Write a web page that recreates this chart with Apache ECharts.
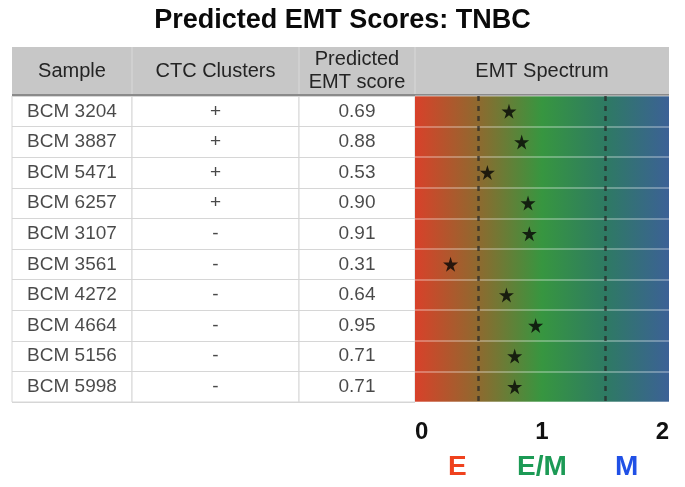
<!DOCTYPE html>
<html>
<head>
<meta charset="utf-8">
<script src="https://cdn.jsdelivr.net/npm/echarts@6/dist/echarts.min.js"></script>
<style>html,body{margin:0;padding:0;background:#fff;}#c{width:685px;height:487px;}</style>
</head>
<body>
<div id="c"></div>
<script>
// ---- data ----
const title = 'Predicted EMT Scores: TNBC';
const headers = ['Sample', 'CTC Clusters', 'Predicted\nEMT score', 'EMT Spectrum'];
const samples = ['BCM 3204','BCM 3887','BCM 5471','BCM 6257','BCM 3107','BCM 3561','BCM 4272','BCM 4664','BCM 5156','BCM 5998'];
const ctcClusters = ['+','+','+','+','-','-','-','-','-','-'];
const scores = [0.69, 0.88, 0.53, 0.90, 0.91, 0.31, 0.64, 0.95, 0.71, 0.71];
const starPositions = [0.74, 0.84, 0.57, 0.89, 0.90, 0.28, 0.72, 0.95, 0.785, 0.785];
const spectrumTicks = ['0', '1', '2'];
const stateLabels = ['E', 'E/M', 'M'];
const thresholds = [0.5, 1.5];

// ---- layout ----
const FONT = '"Liberation Sans", Arial, Helvetica, sans-serif';
const colEdges = [12, 132, 299, 415, 669];
const headTop = 47, headBottom = 95, bodyTop = 96, bodyBottom = 402;
const colTexts = [samples, ctcClusters, scores.map(v => v.toFixed(2))];

const chart = echarts.init(document.getElementById('c'), null, {renderer: 'canvas'});

const grids = [], xAxes = [], yAxes = [], series = [];
for (let g = 0; g < 4; g++) {
  const isSpec = g === 3;
  grids.push({
    left: colEdges[g], width: colEdges[g + 1] - colEdges[g],
    top: bodyTop, height: bodyBottom - bodyTop,
    show: true,
    borderColor: isSpec ? 'rgba(0,0,0,0)' : '#d6d6d6', borderWidth: isSpec ? 0 : 1,
    backgroundColor: isSpec ? {
      type: 'linear', x: 0, y: 0, x2: 1, y2: 0,
      colorStops: [
        {offset: 0, color: '#d8412a'},
        {offset: 0.25, color: '#8e6a2f'},
        {offset: 0.5, color: '#379640'},
        {offset: 0.75, color: '#2e7a63'},
        {offset: 1, color: '#3c6196'}
      ]
    } : '#ffffff'
  });
  yAxes.push({
    gridIndex: g, type: 'category', data: samples, inverse: true,
    axisLine: {show: false}, axisTick: {show: false}, axisLabel: {show: false, interval: 0},
    splitLine: {show: true, interval: 0, lineStyle: {color: isSpec ? 'rgba(255,255,255,0.4)' : '#d6d6d6', width: isSpec ? 1.5 : 1}}
  });
  if (isSpec) {
    xAxes.push({
      gridIndex: g, type: 'value', min: 0, max: 2, interval: 1,
      axisLine: {show: false}, axisTick: {show: false}, splitLine: {show: false},
      axisLabel: {
        show: true, margin: 18, fontSize: 24, fontWeight: 'bold', color: '#111', fontFamily: FONT,
        alignMinLabel: 'left', alignMaxLabel: 'right',
        formatter: v => spectrumTicks[Math.round(v)]
      }
    });
  } else {
    xAxes.push({gridIndex: g, type: 'value', min: 0, max: 1, show: false});
    series.push({
      type: 'scatter', xAxisIndex: g, yAxisIndex: g,
      symbolSize: 1, itemStyle: {color: 'rgba(0,0,0,0)'}, silent: true,
      data: colTexts[g].map((t, i) => [0.5, i]),
      label: {
        show: true, position: 'inside', fontSize: 19, color: '#1c1c1c', fontFamily: FONT,
        formatter: p => colTexts[g][p.dataIndex]
      }
    });
  }
}
// state labels axis
xAxes.push({
  gridIndex: 3, type: 'category', data: stateLabels, position: 'bottom', offset: 43,
  axisLine: {show: false}, axisTick: {show: false}, splitLine: {show: false},
  axisLabel: {
    show: true, interval: 0, margin: 8,
    formatter: (v, i) => '{s' + i + '|' + v + '}',
    rich: {
      s0: {fontSize: 28, fontWeight: 'bold', color: '#ef421e', fontFamily: FONT},
      s1: {fontSize: 28, fontWeight: 'bold', color: '#1c9a55', fontFamily: FONT},
      s2: {fontSize: 28, fontWeight: 'bold', color: '#2050e6', fontFamily: FONT}
    }
  }
});

series.push({
  type: 'scatter', xAxisIndex: 3, yAxisIndex: 3, silent: true,
  symbol: 'path://M50,0 L61,35 L98,35 L68,57 L79,91 L50,70 L21,91 L32,57 L2,35 L39,35 Z',
  symbolSize: 15, itemStyle: {color: '#050505'},
  data: starPositions.map((v, i) => [v, i]),
  markLine: {
    silent: true, symbol: 'none', label: {show: false},
    lineStyle: {type: [5, 5], width: 2.5, color: 'rgba(40,40,40,0.75)'},
    data: thresholds.map(t => ({xAxis: t}))
  },
  z: 5
});

// header graphics
const headerEls = [
  {type: 'rect', shape: {x: colEdges[0], y: headTop, width: colEdges[4] - colEdges[0], height: headBottom - headTop}, style: {fill: '#c7c7c7'}},
  {type: 'line', shape: {x1: colEdges[0], y1: headBottom, x2: colEdges[4], y2: headBottom}, style: {stroke: '#8a8a8a', lineWidth: 2}}
];
for (let k = 1; k < 4; k++) {
  headerEls.push({type: 'line', shape: {x1: colEdges[k], y1: headTop, x2: colEdges[k], y2: headBottom - 1}, style: {stroke: '#d9d9d9', lineWidth: 1}});
}
headers.forEach((h, k) => {
  headerEls.push({
    type: 'text', x: (colEdges[k] + colEdges[k + 1]) / 2, y: (headTop + headBottom) / 2,
    style: {text: h, fontSize: 20, lineHeight: 23, fill: '#242424', fontFamily: FONT, align: 'center', verticalAlign: 'middle'}
  });
});

chart.setOption({
  animation: false,
  backgroundColor: '#ffffff',
  title: {text: title, left: 'center', top: 2, textStyle: {fontSize: 27, fontWeight: 'bold', color: '#0a0a0a', fontFamily: FONT}},
  grid: grids, xAxis: xAxes, yAxis: yAxes, series: series,
  graphic: headerEls
});
</script>
</body>
</html>
